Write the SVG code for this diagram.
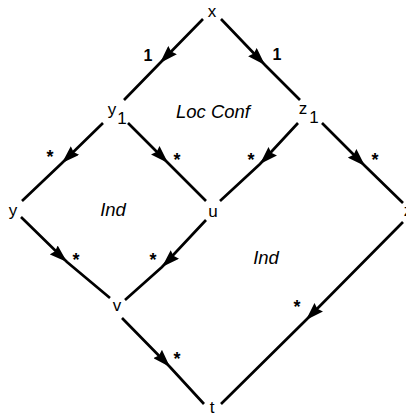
<svg xmlns="http://www.w3.org/2000/svg" width="406" height="416" viewBox="0 0 406 416">
<defs>
<marker id="ah" viewBox="0 0 18 12" refX="18" refY="6" markerWidth="18" markerHeight="12" markerUnits="userSpaceOnUse" orient="auto">
<path d="M0,0 L18,6 L0,12 L2,6 Z" fill="#000"/>
</marker>
</defs>
<style>
.e{fill:none;stroke:#000;stroke-width:2.7;marker-mid:url(#ah)}
.n{font-family:"Liberation Sans",Arial,sans-serif;font-size:17px;fill:#000;text-anchor:middle}
.l{font-family:"Liberation Sans",Arial,sans-serif;font-size:16px;fill:#000;font-weight:bold;text-anchor:middle}
.r{font-family:"Liberation Sans",Arial,sans-serif;font-size:18.5px;font-style:italic;fill:#000;text-anchor:middle}
.st{font-family:"Liberation Sans",Arial,sans-serif;font-size:18px;font-weight:bold;fill:#000;text-anchor:middle}
</style>
<rect width="406" height="416" fill="#fff"/>
<g id="connectors">
<path class="e" d="M203,19 L160,63 L124,100"/>
<path class="e" d="M221,19 L265,65 L300,100"/>
<path class="e" d="M103,123 L62,163 L22,201"/>
<path class="e" d="M128,123 L168,163 L206,201"/>
<path class="e" d="M298,123 L260,164 L220,201"/>
<path class="e" d="M322,123 L365,166 L403,203"/>
<path class="e" d="M21,217 L67,262 L110,298"/>
<path class="e" d="M206,220 L162,267 L125,300"/>
<path class="e" d="M403,222 L306,320 L221,404"/>
<path class="e" d="M122,318 L170,367 L204,404"/>
<text class="l" x="148" y="61">1</text>
<text class="l" x="277" y="60">1</text>
<text class="st" x="50" y="163">*</text>
<text class="st" x="177" y="166">*</text>
<text class="st" x="251" y="166">*</text>
<text class="st" x="375" y="166">*</text>
<text class="st" x="76" y="266">*</text>
<text class="st" x="153" y="266">*</text>
<text class="st" x="297" y="313">*</text>
<text class="st" x="177" y="365">*</text>
</g>
<g id="node-x"><text class="n" x="212" y="17">x</text></g>
<g id="node-y1"><text class="n" x="112" y="115">y</text><text class="n" x="122" y="124">1</text></g>
<g id="node-z1"><text class="n" x="303" y="114">z</text><text class="n" x="314" y="123">1</text></g>
<g id="node-y"><text class="n" x="13" y="216">y</text></g>
<g id="node-u"><text class="n" x="213" y="217">u</text></g>
<g id="node-z"><text class="n" x="408" y="216">z</text></g>
<g id="node-v"><text class="n" x="117" y="311">v</text></g>
<g id="node-t"><text class="n" x="212" y="413">t</text></g>
<g id="regions">
<text class="r" x="213" y="118">Loc Conf</text>
<text class="r" x="113" y="216">Ind</text>
<text class="r" x="266" y="264">Ind</text>
</g>
</svg>
